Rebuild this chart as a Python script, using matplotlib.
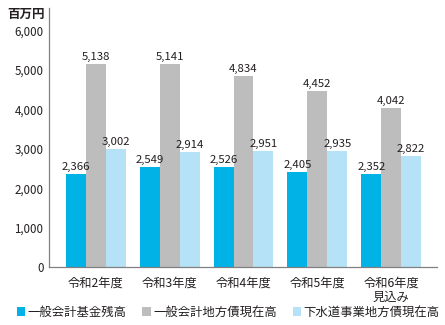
import numpy as np
import matplotlib.pyplot as plt
from matplotlib.patches import Patch

plt.rcParams['font.family'] = ['Noto Sans CJK JP', 'DejaVu Sans']

years = ['令和2年度', '令和3年度', '令和4年度', '令和5年度', '令和6年度\n見込み']
fund_balance = [2366, 2549, 2526, 2405, 2352]
general_debt = [5138, 5141, 4834, 4452, 4042]
sewer_debt = [3002, 2914, 2951, 2935, 2822]

series_names = ['一般会計基金残高', '一般会計地方債現在高', '下水道事業地方債現在高']
colors = ['#00b2e6', '#bdbdbd', '#b5e2f6']
text_color = '#231f20'

fig = plt.figure(figsize=(4.45, 3.25), dpi=100)
ax = fig.add_axes([0.110, 0.178, 0.872, 0.797])

x = np.arange(len(years))
w = 0.27
for i, (vals, c) in enumerate(zip([fund_balance, general_debt, sewer_debt], colors)):
    pos = x + (i - 1) * w
    ax.bar(pos, vals, width=w, color=c, edgecolor='none')
    for px, v in zip(pos, vals):
        ax.text(px, v + 50, f'{v:,}', ha='center', va='bottom',
                fontsize=8.2, color=text_color)

ax.set_xlim(-0.635, 4.62)
ax.set_ylim(0, 6560)
ax.set_yticks(range(0, 7000, 1000))
ax.set_yticklabels([f'{v:,}' for v in range(0, 7000, 1000)], fontsize=8.3, color=text_color)
ax.set_xticks(x)
ax.set_xticklabels(years, fontsize=8.8, color=text_color, linespacing=1.05)
ax.tick_params(axis='y', length=0, pad=4)
ax.tick_params(axis='x', length=0, pad=7)

for side in ['top', 'right']:
    ax.spines[side].set_visible(False)
for side in ['left', 'bottom']:
    ax.spines[side].set_color('#808080')
    ax.spines[side].set_linewidth(0.9)

fig.text(0.016, 0.957, '百万円', fontsize=9, fontweight='bold', color=text_color,
         va='center', ha='left')

handles = [Patch(facecolor=c, edgecolor='none') for c in colors]
fig.legend(handles, series_names, loc='lower left', bbox_to_anchor=(0.018, -0.008),
           ncol=3, frameon=False, fontsize=8.9, handlelength=0.7, handleheight=0.7,
           handletextpad=0.2, columnspacing=1.25, borderaxespad=0.3,
           labelcolor=text_color)

fig.savefig('out.png', dpi=100)
